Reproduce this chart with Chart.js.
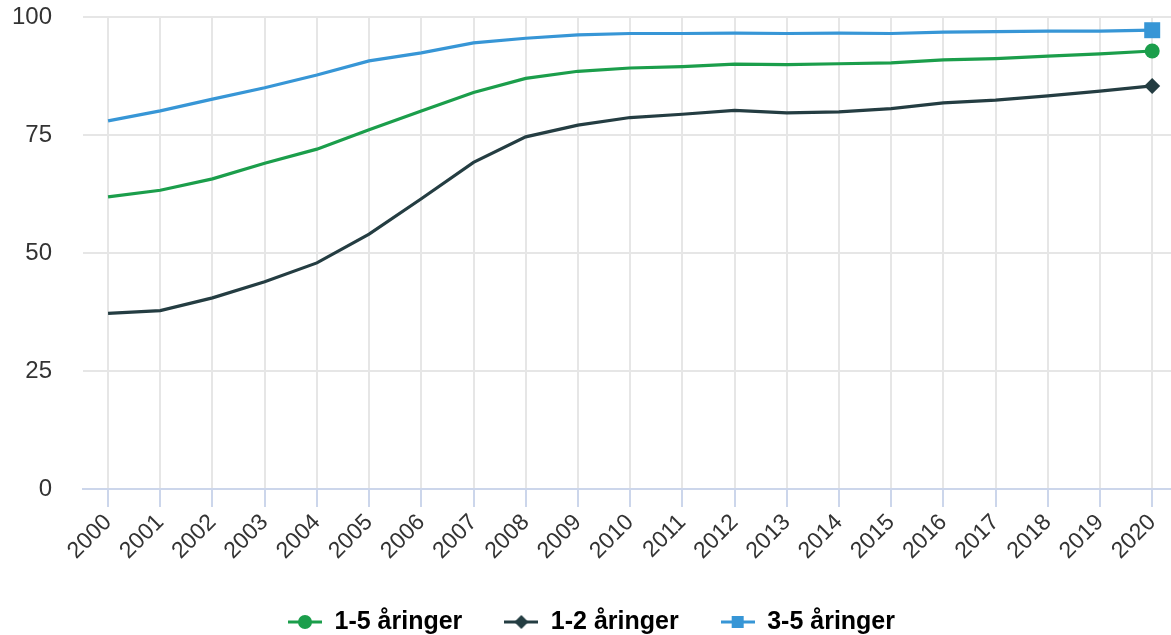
<!DOCTYPE html>
<html lang="no">
<head>
<meta charset="utf-8">
<title>Barn i barnehage</title>
<script src="https://cdn.jsdelivr.net/npm/chart.js@4/dist/chart.umd.min.js"></script>
<style>
  html, body { margin: 0; padding: 0; background: #ffffff; }
  #wrap { width: 1171px; height: 635px; }
</style>
</head>
<body>
<div id="wrap"><canvas id="chart" width="1171" height="635"></canvas></div>
<script>
// Årstall langs x-aksen
const years = [2000, 2001, 2002, 2003, 2004, 2005, 2006, 2007, 2008, 2009, 2010,
               2011, 2012, 2013, 2014, 2015, 2016, 2017, 2018, 2019, 2020];

// Andel barn i barnehage (prosent)
const age1to5 = [61.9, 63.3, 65.7, 69.0, 72.0, 76.1, 80.1, 84.0, 87.0, 88.5, 89.2,
                 89.5, 90.0, 89.9, 90.1, 90.3, 90.9, 91.2, 91.7, 92.2, 92.8];
const age1to2 = [37.2, 37.8, 40.5, 43.9, 47.9, 54.0, 61.5, 69.2, 74.6, 77.1, 78.7,
                 79.4, 80.2, 79.7, 79.9, 80.6, 81.8, 82.4, 83.3, 84.3, 85.4];
const age3to5 = [78.0, 80.1, 82.6, 85.0, 87.7, 90.7, 92.4, 94.5, 95.5, 96.2, 96.5,
                 96.5, 96.6, 96.5, 96.6, 96.5, 96.8, 96.9, 97.0, 97.0, 97.2];

const seriesNames = ['1-5 åringer', '1-2 åringer', '3-5 åringer'];
const yTicks = [0, 25, 50, 75, 100];

const GREEN = '#1b9e4b';
const DARK = '#243d42';
const BLUE = '#3796d6';
const FONT = "'Liberation Sans', Arial, Helvetica, sans-serif";

// Legend symbol: a short line with the series marker in the middle
function legendSymbol(color, shape) {
  const c = document.createElement('canvas');
  c.width = 34; c.height = 16;
  const g = c.getContext('2d');
  g.strokeStyle = color; g.fillStyle = color; g.lineWidth = 3;
  g.beginPath(); g.moveTo(0, 8); g.lineTo(34, 8); g.stroke();
  g.beginPath();
  if (shape === 'circle') {
    g.arc(17, 8, 7, 0, Math.PI * 2);
  } else if (shape === 'diamond') {
    g.moveTo(17, 1); g.lineTo(24, 8); g.lineTo(17, 15); g.lineTo(10, 8); g.closePath();
  } else {
    g.rect(11, 2, 12, 12);
  }
  g.fill();
  return c;
}

const symbols = [legendSymbol(GREEN, 'circle'), legendSymbol(DARK, 'diamond'), legendSymbol(BLUE, 'square')];

function toPoints(values) {
  return values.map((v, i) => ({ x: years[i], y: v }));
}

// Marker only on the last point of each line
function lastOnly(size) {
  return ctx => (ctx.dataIndex === years.length - 1 ? size : 0);
}

function makeSet(label, values, color, style, size) {
  return {
    label: label,
    data: toPoints(values),
    borderColor: color,
    backgroundColor: color,
    borderWidth: 3.2,
    tension: 0,
    clip: false,
    pointStyle: style,
    pointRadius: lastOnly(size),
    pointBorderWidth: 0,
    pointHoverRadius: lastOnly(size)
  };
}

const datasets = [
  makeSet(seriesNames[0], age1to5, GREEN, 'circle', 7.5),
  makeSet(seriesNames[1], age1to2, DARK, 'rectRot', 8),
  makeSet(seriesNames[2], age3to5, BLUE, 'rect', 11.3)
];

new Chart(document.getElementById('chart'), {
  type: 'line',
  data: { datasets: datasets },
  options: {
    responsive: false,
    animation: false,
    events: [],
    devicePixelRatio: 1,
    layout: { autoPadding: false, padding: { left: 12, top: 17, right: 0, bottom: -9.5 } },
    scales: {
      x: {
        type: 'linear',
        min: 1999.52,
        max: 2020.36,
        afterBuildTicks: scale => { scale.ticks = years.map(v => ({ value: v })); },
        afterFit: scale => {
          scale.height = 78.5;
          scale.paddingLeft = 0;
          scale.paddingRight = 0;
        },
        grid: {
          color: '#e6e6e6',
          lineWidth: 2,
          drawTicks: true,
          tickLength: 18,
          tickColor: '#ccd6eb',
          tickWidth: 2
        },
        border: { display: true, color: '#ccd6eb', width: 2 },
        ticks: {
          autoSkip: false,
          minRotation: 45,
          maxRotation: 45,
          padding: 2,
          color: '#333333',
          font: { family: FONT, size: 23 },
          callback: value => String(value)
        }
      },
      y: {
        min: 0,
        max: 100,
        afterBuildTicks: scale => { scale.ticks = yTicks.map(v => ({ value: v })); },
        afterFit: scale => {
          scale.width = 71;
          scale.paddingTop = 0;
          scale.paddingBottom = 0;
        },
        grid: {
          color: ctx => (ctx.tick && ctx.tick.value === 0 ? 'rgba(0,0,0,0)' : '#e6e6e6'),
          lineWidth: 2,
          drawTicks: false
        },
        border: { display: false },
        ticks: {
          padding: 31,
          color: '#333333',
          font: { family: FONT, size: 24 }
        }
      }
    },
    plugins: {
      tooltip: { enabled: false },
      legend: {
        position: 'bottom',
        labels: {
          usePointStyle: true,
          pointStyleWidth: 34,
          boxHeight: 16,
          padding: 42,
          color: '#333333',
          font: { family: FONT, size: 25, weight: 'bold' },
          generateLabels: chart => chart.data.datasets.map((ds, i) => ({
            text: ds.label,
            pointStyle: symbols[i],
            fillStyle: ds.borderColor,
            strokeStyle: ds.borderColor,
            lineWidth: 0,
            hidden: false,
            datasetIndex: i
          }))
        }
      }
    }
  }
});
</script>
</body>
</html>
